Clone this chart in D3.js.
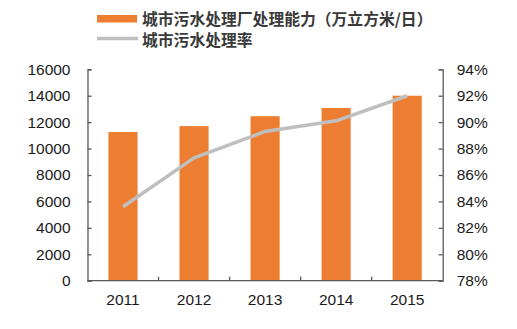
<!DOCTYPE html>
<html><head><meta charset="utf-8">
<script src="https://cdn.jsdelivr.net/npm/d3@7"></script>
<style>body{margin:0;background:#fff}svg{display:block}</style>
</head><body><svg id="c" width="517" height="329"></svg>
<script>
const years = ["2011","2012","2013","2014","2015"];
const capacity = [11250, 11700, 12450, 13070, 14000];
const rate = [83.6, 87.3, 89.3, 90.1, 92.0];
const leftTicks = [0,2000,4000,6000,8000,10000,12000,14000,16000];
const rightTicks = [78,80,82,84,86,88,90,92,94];
const seriesNames = ["城市污水处理厂处理能力（万立方米/日）","城市污水处理率"];

const svg = d3.select("#c");
const L = 87.5, R = 442.7, T = 69.3, B = 280.7;
const x = d3.scaleBand().domain(years).range([L, R]).paddingInner(0.59).paddingOuter(0.295);
const xb = d3.scaleBand().domain(years).range([L, R]);
const yL = d3.scaleLinear().domain([0,16000]).range([B, T]);
const yR = d3.scaleLinear().domain([78,94]).range([B, T]);
const axisColor = "#595959";
const font = "Arial, 'Liberation Sans', 'Noto Sans CJK SC', sans-serif";

svg.selectAll("rect.bar").data(years).enter().append("rect")
  .attr("x", d => x(d)).attr("width", x.bandwidth())
  .attr("y", (d,i) => yL(capacity[i])).attr("height", (d,i) => B - yL(capacity[i]))
  .attr("fill", "#ed7d31");

const line = d3.line().x((d,i) => xb(years[i]) + xb.bandwidth()/2).y(d => yR(d));
svg.append("path").datum(rate).attr("d", line).attr("fill","none")
  .attr("stroke","#bfbfbf").attr("stroke-width",3.5).attr("stroke-linejoin","round");

function styleAxis(g){
  g.selectAll("path,line").attr("stroke", axisColor).attr("stroke-width",1.3);
  g.selectAll("text").attr("fill","#1a1a1a").style("font-family",font).style("font-size","15.5px");
}
const gl = svg.append("g").attr("transform",`translate(${L},0)`)
  .call(d3.axisLeft(yL).tickValues(leftTicks).tickSizeInner(-4).tickSizeOuter(-4).tickPadding(17).tickFormat(d3.format("d")));
styleAxis(gl);
const gr = svg.append("g").attr("transform",`translate(${R},0)`)
  .call(d3.axisRight(yR).tickValues(rightTicks).tickSizeInner(-4).tickSizeOuter(-4).tickPadding(14).tickFormat(d => d + "%"));
styleAxis(gr);
const gb = svg.append("g").attr("transform",`translate(0,${B})`)
  .call(d3.axisBottom(xb).tickSize(0).tickPadding(13));
styleAxis(gb);
gb.select(".domain").attr("d", `M${L},0H${R}`);
// separators between categories
svg.append("g").selectAll("line").data(years.slice(1)).enter().append("line")
  .attr("x1", d => xb(d)).attr("x2", d => xb(d)).attr("y1", B).attr("y2", B-4)
  .attr("stroke", axisColor).attr("stroke-width",1.3);

// legend
const lg = svg.append("g");
lg.append("rect").attr("x",97).attr("y",15).attr("width",40).attr("height",7.5).attr("fill","#ed7d31");
lg.append("line").attr("x1",97).attr("x2",138).attr("y1",38.5).attr("y2",38.5).attr("stroke","#bfbfbf").attr("stroke-width",3.5);
lg.selectAll("text").data(seriesNames).enter().append("text")
  .attr("x",142).attr("y",(d,i)=> 19 + i*21).attr("dy","0.35em")
  .attr("fill","#3a3a3a").style("font-family","'Noto Sans CJK SC', sans-serif").style("font-size","15.8px").style("font-weight","bold")
  .text(d=>d);
</script></body></html>
